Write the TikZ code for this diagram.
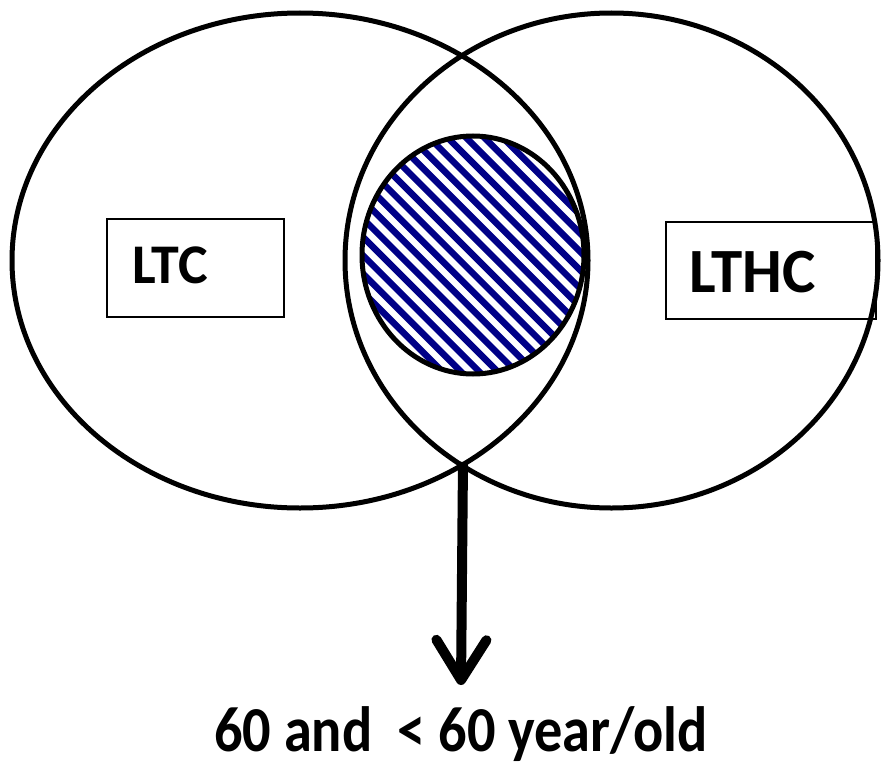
\documentclass[tikz,border=0pt]{standalone}
\usepackage{fontspec}
\setmainfont{Carlito}
\usetikzlibrary{arrows.meta}
\definecolor{hatchblue}{RGB}{0,0,135}
\tikzset{
  outline/.style={draw=black, line width=5pt},
  labelbox/.style={draw=black, line width=1.5pt, inner sep=0pt},
  bigtext/.style={inner sep=0pt, anchor=base west, font=\bfseries},
}
\begin{document}
\begin{tikzpicture}[x=1pt, y=-1pt]
\useasboundingbox (0,0) rectangle (881,768);
% hatched inner circle
\begin{scope}
  \clip (473,255) ellipse [x radius=111pt, y radius=119pt];
  \foreach \k in {-20,...,20} {
    \draw[hatchblue, line width=6.5pt] ({473+\k*18.4-200},55) -- ({473+\k*18.4+200},455);
  }
\end{scope}
% outer ellipses
\draw[outline] (300,260.5) ellipse [x radius=288pt, y radius=247.5pt];
\draw[outline] (611.5,260.5) ellipse [x radius=266.5pt, y radius=247.5pt];
\draw[outline] (473,255) ellipse [x radius=111pt, y radius=119pt];
% label boxes
\node[labelbox, minimum width=177pt, minimum height=98pt] (ltcbox) at (195.5,268) {};
\node[labelbox, minimum width=210pt, minimum height=97pt] (lthcbox) at (771,270.5) {};
\node[bigtext, font=\bfseries\fontsize{56}{62}\selectfont] (ltc) at (132,283) {LTC};
\node[bigtext, font=\bfseries\fontsize{63}{70}\selectfont] (lthc) at (689,292) {LTHC};
% arrow
\coordinate (meet) at (463,462);
\coordinate (tip) at (461,685);
\draw[line width=10pt, -{Straight Barb[length=40pt, width=50pt, round]}] (meet) -- (tip);
\node[inner sep=0pt, anchor=base, xscale=0.88, font=\bfseries\fontsize{64}{72}\selectfont] (age) at (461,751) {60 and\ \ < 60 year/old};
\end{tikzpicture}
\end{document}
